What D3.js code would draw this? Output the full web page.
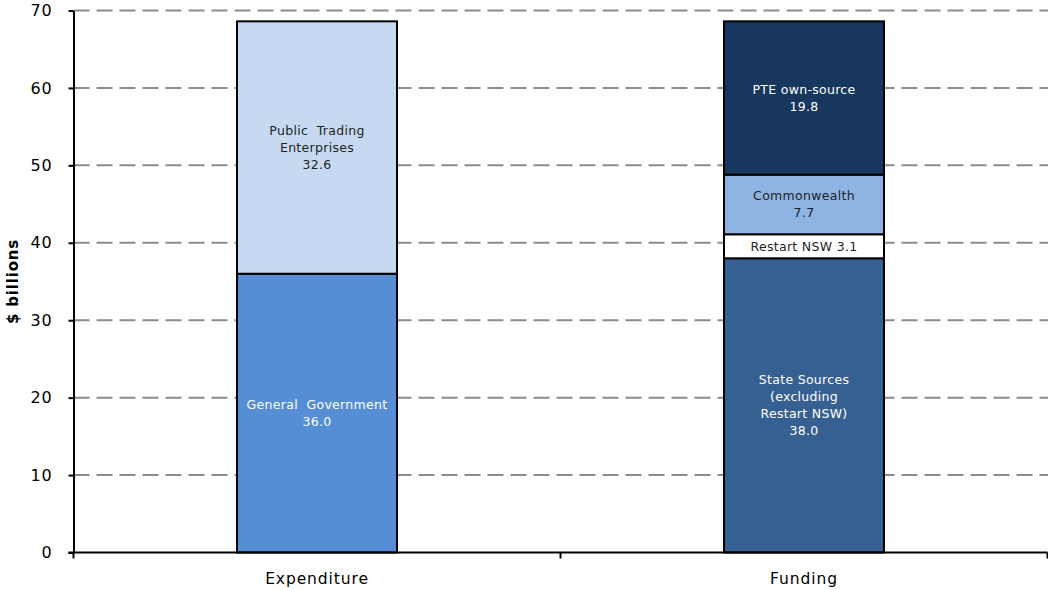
<!DOCTYPE html>
<html>
<head>
<meta charset="utf-8">
<script src="https://cdn.jsdelivr.net/npm/d3@7"></script>
<style>
  html, body { margin: 0; padding: 0; background: #fff; }
  svg { display: block; font-family: "DejaVu Sans", Verdana, sans-serif; }
</style>
</head>
<body>
<svg id="chart" width="1048" height="590"></svg>
<script>
// ---- data ----
const categories = ["Expenditure", "Funding"];

const expenditureNames = [["General  Government"], ["Public  Trading", "Enterprises"]];
const expenditureValues = [36.0, 32.6];
const expenditureColors = ["#558ed5", "#c6d9f1"];
const expenditureTextColors = ["#ffffff", "#1f1f1f"];

const fundingNames = [["State Sources", "(excluding", "Restart NSW)"], ["Restart NSW"], ["Commonwealth"], ["PTE own-source"]];
const fundingValues = [38.0, 3.1, 7.7, 19.8];
const fundingColors = ["#376092", "#ffffff", "#8eb4e3", "#17375e"];
const fundingTextColors = ["#ffffff", "#1f1f1f", "#1f1f1f", "#ffffff"];
const fundingInline = [false, true, false, false];

const yTicks = [0, 10, 20, 30, 40, 50, 60, 70];
const yLabel = "$ billions";

// ---- layout ----
const svg = d3.select("#chart");
const mLeft = 73.5, mRight = 1047.5, mTop = 10.5, mBottom = 552.5;

const x = d3.scaleBand().domain(categories).range([mLeft, mRight]).paddingInner(0).paddingOuter(0);
const y = d3.scaleLinear().domain([0, 70]).range([mBottom, mTop]);
const barW = 160;

// gridlines
svg.append("g").selectAll("line").data(yTicks.filter(d => d > 0)).join("line")
  .attr("x1", mLeft).attr("x2", 1048)
  .attr("y1", d => y(d)).attr("y2", d => y(d))
  .attr("stroke", "#8c8c8c").attr("stroke-width", 2)
  .attr("stroke-dasharray", "16,7");

// build stacked segments
function segs(cat, names, values, colors, textColors, inline) {
  let acc = 0;
  return values.map((v, i) => {
    const s = { cat, y0: acc, y1: acc + v, v, names: names[i], color: colors[i], tc: textColors[i], inline: inline ? inline[i] : false };
    acc += v;
    return s;
  });
}
const allSegs = segs("Expenditure", expenditureNames, expenditureValues, expenditureColors, expenditureTextColors)
  .concat(segs("Funding", fundingNames, fundingValues, fundingColors, fundingTextColors, fundingInline));

const g = svg.append("g");
g.selectAll("rect").data(allSegs).join("rect")
  .attr("x", d => x(d.cat) + x.bandwidth() / 2 - barW / 2)
  .attr("width", barW)
  .attr("y", d => y(d.y1))
  .attr("height", d => y(d.y0) - y(d.y1))
  .attr("fill", d => d.color)
  .attr("stroke", "#000").attr("stroke-width", 2);

// segment labels
const lh = 17;
allSegs.forEach(d => {
  const lines = d.inline ? [d.names.join(" ") + " " + d.v.toFixed(1)] : d.names.concat([d.v.toFixed(1)]);
  const cx = x(d.cat) + x.bandwidth() / 2;
  const cy = (y(d.y0) + y(d.y1)) / 2;
  const t = svg.append("text")
    .attr("x", cx).attr("text-anchor", "middle")
    .attr("font-size", 12.5).attr("letter-spacing", 0.3)
    .attr("fill", d.tc)
    .style("white-space", "pre");
  lines.forEach((ln, i) => {
    t.append("tspan").attr("x", cx)
      .attr("y", cy + (i - (lines.length - 1) / 2) * lh + 4.5)
      .text(ln);
  });
});

// y axis
const yAxis = svg.append("g").attr("transform", `translate(${mLeft},0)`)
  .call(d3.axisLeft(y).tickValues(yTicks).tickSize(5).tickPadding(16).tickSizeOuter(0));
yAxis.select(".domain").attr("stroke", "#000").attr("stroke-width", 2);
yAxis.selectAll(".tick line").attr("stroke", "#000").attr("stroke-width", 2);
yAxis.selectAll(".tick text").attr("font-size", 16).attr("fill", "#000")
  .attr("font-family", "DejaVu Sans, Verdana, sans-serif").attr("letter-spacing", 0.8);

// x axis
svg.append("line").attr("x1", mLeft - 5).attr("x2", mRight).attr("y1", mBottom).attr("y2", mBottom)
  .attr("stroke", "#000").attr("stroke-width", 2);
const bounds = categories.map(c => x(c)).concat([x.range()[1]]);
svg.append("g").selectAll("line").data(bounds).join("line")
  .attr("x1", d => d).attr("x2", d => d)
  .attr("y1", mBottom).attr("y2", mBottom + 6)
  .attr("stroke", "#000").attr("stroke-width", 2);
svg.append("g").selectAll("text").data(categories).join("text")
  .attr("x", d => x(d) + x.bandwidth() / 2)
  .attr("y", 584)
  .attr("text-anchor", "middle")
  .attr("font-size", 15.5).attr("letter-spacing", 0.9).attr("fill", "#000")
  .text(d => d);

// y label
svg.append("text")
  .attr("transform", `translate(18,${(mTop + mBottom) / 2}) rotate(-90)`)
  .attr("text-anchor", "middle")
  .attr("font-size", 15).attr("font-weight", "bold").attr("letter-spacing", 0.8).attr("fill", "#000")
  .text(yLabel);
</script>
</body>
</html>
